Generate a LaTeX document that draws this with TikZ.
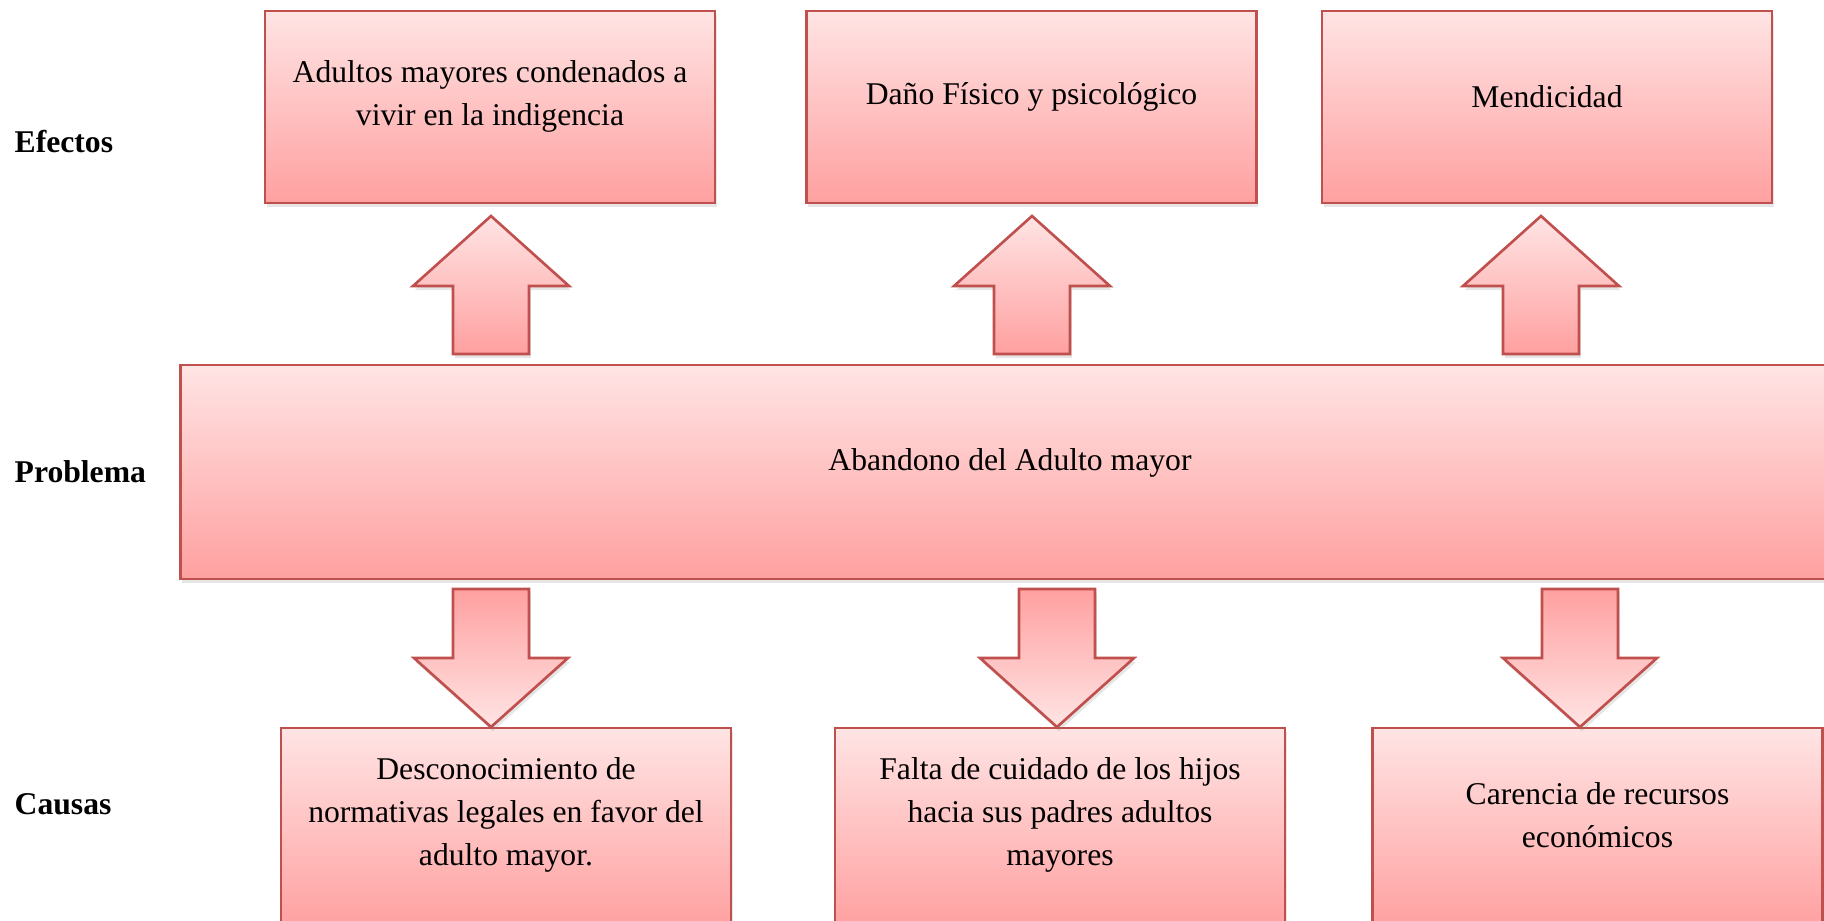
\documentclass[tikz,border=0pt]{standalone}
\usepackage{fontspec}
\setmainfont{Liberation Serif}
\usetikzlibrary{shadows}
\definecolor{boxline}{RGB}{192,80,77}
\definecolor{boxtop}{RGB}{255,228,228}
\definecolor{boxbot}{RGB}{255,160,160}
\tikzset{
  blk/.style={rectangle, draw=boxline, line width=0.75pt, top color=boxtop, bottom color=boxbot,
    drop shadow={shadow xshift=0.5pt, shadow yshift=-1.2pt, opacity=0.2}},
  efbox/.style={blk, minimum width=4.5cm, minimum height=1.92cm},
  cabox/.style={blk, minimum width=4.5cm, minimum height=2cm},
  txt/.style={align=center, font=\fontsize{9}{12.2}\selectfont},
  side/.style={anchor=west, inner sep=0pt, font=\fontsize{9}{12.2}\selectfont\bfseries},
  arr/.style={draw=boxline, line width=0.75pt, line join=miter,
    drop shadow={shadow xshift=0.5pt, shadow yshift=-1.2pt, opacity=0.2}},
  pics/uparr/.style={code={
    \path[arr, top color=boxtop, bottom color=boxbot]
      (-38,0) -- (-38,-68) -- (-78,-68) -- (0,-138) -- (78,-68) -- (38,-68) -- (38,0) -- cycle;
  }},
  pics/dnarr/.style={code={
    \path[arr, top color=boxbot, bottom color=boxtop]
      (-38,0) -- (-38,69) -- (-77,69) -- (0,138) -- (77,69) -- (38,69) -- (38,0) -- cycle;
  }},
}

\begin{document}
\begin{tikzpicture}[x=0.01cm, y=-0.01cm]
  \useasboundingbox (0,0) rectangle (1824,920);
  \clip (0,0) rectangle (1824,920);

  %% row labels
  \node[side] (lef) at (14,141) {Efectos};
  \node[side] (lpr) at (14,472) {Problema};
  \node[side] (lca) at (14,804) {Causas};

  %% efectos
  \node[efbox] (ef1) at (490,107) {};
  \node[efbox] (ef2) at (1031.5,107) {};
  \node[efbox] (ef3) at (1547,107) {};
  \node[txt] (ef1t) at ([yshift=0.105cm]ef1.center) {Adultos mayores condenados a\\vivir en la indigencia};
  \node[txt] (ef2t) at ([yshift=0.105cm]ef2.center) {Daño Físico y psicológico};
  \node[txt] (ef3t) at ([yshift=0.105cm]ef3.center) {Mendicidad};

  %% problema
  \node[blk, minimum width=16.58cm, minimum height=2.14cm] (prob) at (1010,472) {};
  \node[txt] (probt) at ([yshift=0.095cm]prob.center) {Abandono del Adulto mayor};

  %% causas
  \node[cabox] (ca1) at (506,828) {};
  \node[cabox] (ca2) at (1060,828) {};
  \node[cabox] (ca3) at (1597.5,828) {};
  \node[txt] (ca1t) at (506,815) {Desconocimiento de\\normativas legales en favor del\\adulto mayor.};
  \node[txt] (ca2t) at (1060,815) {Falta de cuidado de los hijos\\hacia sus padres adultos\\mayores};
  \node[txt] (ca3t) at (1597.5,815) {Carencia de recursos\\económicos};

  %% flechas
  \foreach \x in {491,1032,1541}
    \pic at (\x,354) {uparr};
  \foreach \x in {491,1057,1580}
    \pic at (\x,589) {dnarr};
\end{tikzpicture}
\end{document}
